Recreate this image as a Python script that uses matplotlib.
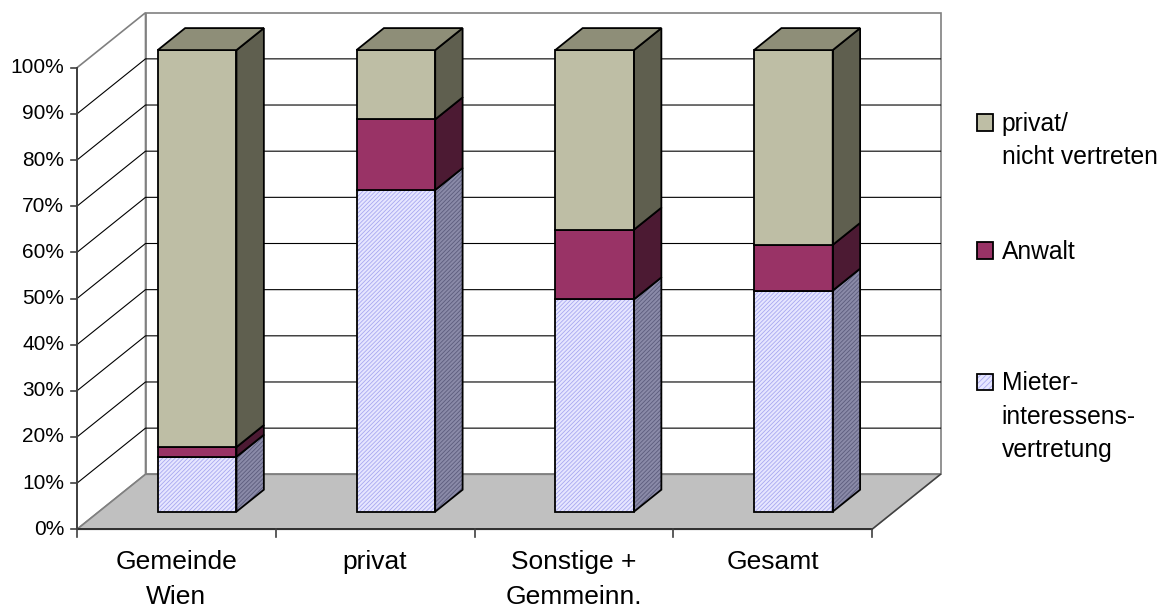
import matplotlib
matplotlib.use("Agg")
import matplotlib.pyplot as plt
from matplotlib.patches import Polygon, Rectangle

# ---------------- data ----------------
categories = ["Gemeinde\nWien", "privat", "Sonstige +\nGemmeinn.", "Gesamt"]
series_names = ["Mieter-\ninteressens-\nvertretung", "Anwalt", "privat/\nnicht vertreten"]
mieter = [11.9, 69.7, 46.0, 47.9]
anwalt = [2.1, 15.3, 15.1, 9.9]
privat_nv = [86.0, 15.0, 38.9, 42.2]
y_ticks = [0, 10, 20, 30, 40, 50, 60, 70, 80, 90, 100]
y_tick_labels = [f"{t}%" for t in y_ticks]

# ---------------- styles ----------------
FONT = "Liberation Sans"
plt.rcParams["font.family"] = [FONT, "DejaVu Sans"]
plt.rcParams["hatch.linewidth"] = 0.6

series_styles = [
    # front face, front hatch colour, side face, side hatch colour, top face
    dict(front="#E6E6FF", fhatch="#A8A8F0", side="#8A8AA8", shatch="#5C5C7C", top="#B0B0D8", hatch="////////"),
    dict(front="#993366", fhatch=None, side="#4C1A33", shatch=None, top="#73264D", hatch=None),
    dict(front="#BEBEA5", fhatch=None, side="#5F5F4F", shatch=None, top="#8E8E78", hatch=None),
]

W, H = 1165, 608
fig = plt.figure(figsize=(W / 100, H / 100), dpi=100)
ax = fig.add_axes([0, 0, 1, 1])

# front plane: 1 category = PX_C px, 1 % = PX_V px, origin at (X0, Y0) px
PX_C, PX_V, X0, Y0 = 198.75, 4.616, 77.0, 529.3
ax.set_xlim(-X0 / PX_C, (W - X0) / PX_C)
ax.set_ylim(-(H - Y0) / PX_V, Y0 / PX_V)
ax.axis("off")

# oblique depth vector (full depth)
DX, DY = 68.5 / PX_C, 55.0 / PX_V
n = len(categories)
VMAX = 100


def P(c, v, d):
    return (c + d * DX, v + d * DY)


def poly(pts, **kw):
    ax.add_patch(Polygon(pts, closed=True, **kw))


WALL_EDGE = "#808080"
# back wall
poly([P(0, 0, 1), P(n, 0, 1), P(n, VMAX, 1), P(0, VMAX, 1)], facecolor="white",
     edgecolor=WALL_EDGE, lw=1.2, zorder=1)
# left wall
poly([P(0, 0, 0), P(0, 0, 1), P(0, VMAX, 1), P(0, VMAX, 0)], facecolor="white",
     edgecolor=WALL_EDGE, lw=1.2, zorder=1)
# floor
poly([P(0, 0, 0), P(n, 0, 0), P(n, 0, 1), P(0, 0, 1)], facecolor="#C0C0C0",
     edgecolor=WALL_EDGE, lw=1.2, zorder=1)
# floor front / right edges
ax.plot(*zip(P(n, 0, 0), P(n, 0, 1)), color="#404040", lw=1.0, zorder=2)

# gridlines on walls
for t in y_ticks[1:-1]:
    xs, ys = zip(P(0, t, 0), P(0, t, 1), P(n, t, 1))
    ax.plot(xs, ys, color="black", lw=0.8, zorder=2)

# front value axis
ax.plot(*zip(P(0, 0, 0), P(0, VMAX, 0)), color="#404040", lw=1.4, zorder=3)
ax.plot(*zip(P(0, 0, 0), P(n, 0, 0)), color="#303030", lw=1.4, zorder=3)
tick_len = 6.5 / PX_C
for t, lab in zip(y_ticks, y_tick_labels):
    ax.plot([-tick_len, 0], [t, t], color="#404040", lw=1.2, zorder=3)
    ax.text(-13 / PX_C, t, lab, ha="right", va="center", fontsize=15, color="black")

# category ticks & labels
cat_tick = 7.5 / PX_V
for i in range(n + 1):
    ax.plot([i, i], [0, -cat_tick], color="#404040", lw=1.2, zorder=3)
line_gap = 35.0 / PX_V
first_line = (Y0 - 561.7) / PX_V
for i, lab in enumerate(categories):
    for k, line in enumerate(lab.split("\n")):
        ax.text(i + 0.5, first_line - k * line_gap, line, ha="center", va="center",
                fontsize=19, color="black")

# bars
C_L, C_R = 0.296, 0.692
D0, D1 = 0.32, 0.72
series_values = [mieter, anwalt, privat_nv]
EDGE = "black"
LW = 1.3
for i in range(n):
    base = 0.0
    c0, c1 = i + C_L, i + C_R
    nseg = len(series_values)
    for s, vals in enumerate(series_values):
        v0, v1 = base, base + vals[i]
        st = series_styles[s]
        front = [P(c0, v0, D0), P(c1, v0, D0), P(c1, v1, D0), P(c0, v1, D0)]
        side = [P(c1, v0, D0), P(c1, v0, D1), P(c1, v1, D1), P(c1, v1, D0)]
        z = 5 + s
        if st["hatch"]:
            poly(front, facecolor=st["front"], edgecolor=st["fhatch"], lw=0, hatch=st["hatch"], zorder=z)
            poly(side, facecolor=st["side"], edgecolor=st["shatch"], lw=0, hatch=st["hatch"], zorder=z)
        else:
            poly(front, facecolor=st["front"], lw=0, zorder=z)
            poly(side, facecolor=st["side"], lw=0, zorder=z)
        poly(front, facecolor="none", edgecolor=EDGE, lw=LW, joinstyle="miter", zorder=z + 0.5)
        poly(side, facecolor="none", edgecolor=EDGE, lw=LW, joinstyle="miter", zorder=z + 0.5)
        if s == nseg - 1:
            top = [P(c0, v1, D0), P(c1, v1, D0), P(c1, v1, D1), P(c0, v1, D1)]
            poly(top, facecolor=st["top"], edgecolor=EDGE, lw=LW, joinstyle="miter", zorder=z + 0.6)
        base = v1

# legend (manual, in axes fraction)
leg_entries = list(zip(series_names, series_styles))[::-1]
first_line_px = [124.0, 251.7, 383.5]
leg_line_gap = 33.0
sq = 16.6
for (name, st), y_px in zip(leg_entries, first_line_px):
    sx, sy = 976.7 / W, 1 - (y_px - 1.5 + sq / 2) / H
    if st["hatch"]:
        ax.add_patch(Rectangle((sx, sy), sq / W, sq / H, transform=ax.transAxes,
                               facecolor=st["front"], edgecolor=st["fhatch"], lw=0,
                               hatch="//////", zorder=10))
    else:
        ax.add_patch(Rectangle((sx, sy), sq / W, sq / H, transform=ax.transAxes,
                               facecolor=st["front"], lw=0, zorder=10))
    ax.add_patch(Rectangle((sx, sy), sq / W, sq / H, transform=ax.transAxes,
                           facecolor="none", edgecolor="black", lw=1.3, zorder=11))
    for k, line in enumerate(name.split("\n")):
        ax.text(1001.7 / W, 1 - (y_px + k * leg_line_gap) / H, line, transform=ax.transAxes,
                ha="left", va="center", fontsize=17.7, color="black")

fig.savefig("out.png", dpi=100)
